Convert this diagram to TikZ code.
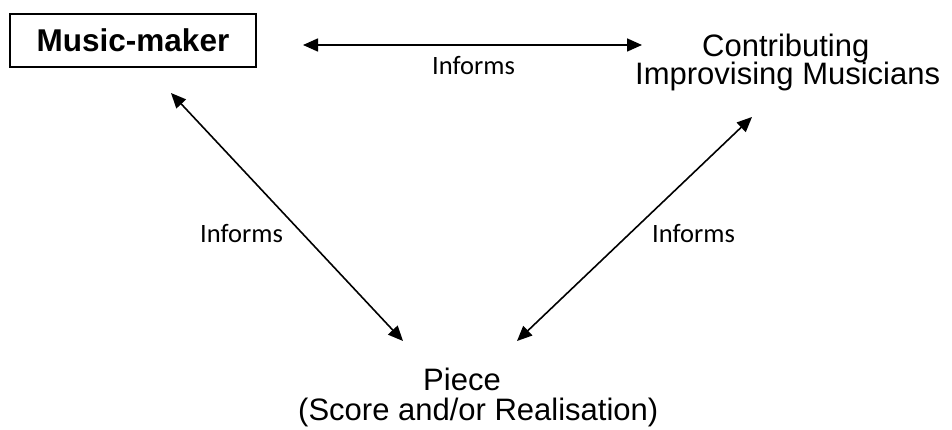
\documentclass[tikz,border=0pt]{standalone}
\usepackage{fontspec}
\setmainfont{Liberation Sans}
\newfontfamily\calibrifont{Carlito}
\usetikzlibrary{arrows.meta}
\begin{document}
\begin{tikzpicture}[x=1pt,y=-1pt,
  bigtext/.style={inner sep=0pt,font=\fontsize{31}{36}\selectfont},
  lbltext/.style={inner sep=0pt,anchor=base west,font=\calibrifont\fontsize{26.5}{30}\selectfont},
  twoway/.style={line width=1.6pt,{Triangle[length=15pt,width=13pt]}-{Triangle[length=15pt,width=13pt]}}]
\useasboundingbox (0,0) rectangle (952,430);
% nodes
\node[draw,line width=1.6pt,minimum width=246pt,minimum height=53pt,inner sep=0pt,
      font=\bfseries\fontsize{31.5}{36}\selectfont] (mm) at (133,40.5) {Music-maker};
\node[bigtext,anchor=base west] (c1) at (702,57) {Contributing};
\node[bigtext,anchor=base west] (c2) at (635,85) {Improvising Musicians};
\node[bigtext,anchor=base west] (p1) at (423,390) {Piece};
\node[bigtext,anchor=base west] (p2) at (298,420) {(Score and/or Realisation)};
% connector ends
\coordinate (tA) at (303,45);
\coordinate (tB) at (642,45);
\coordinate (lA) at (171,93);
\coordinate (lB) at (403,341);
\coordinate (rA) at (517,341);
\coordinate (rB) at (752,117);
% connectors
\draw[twoway] (tA) -- (tB);
\draw[twoway] (lA) -- (lB);
\draw[twoway] (rA) -- (rB);
% labels
\node[lbltext] (i1) at (432,75) {Informs};
\node[lbltext] (i2) at (200,243) {Informs};
\node[lbltext] (i3) at (652,243) {Informs};
\end{tikzpicture}
\end{document}
